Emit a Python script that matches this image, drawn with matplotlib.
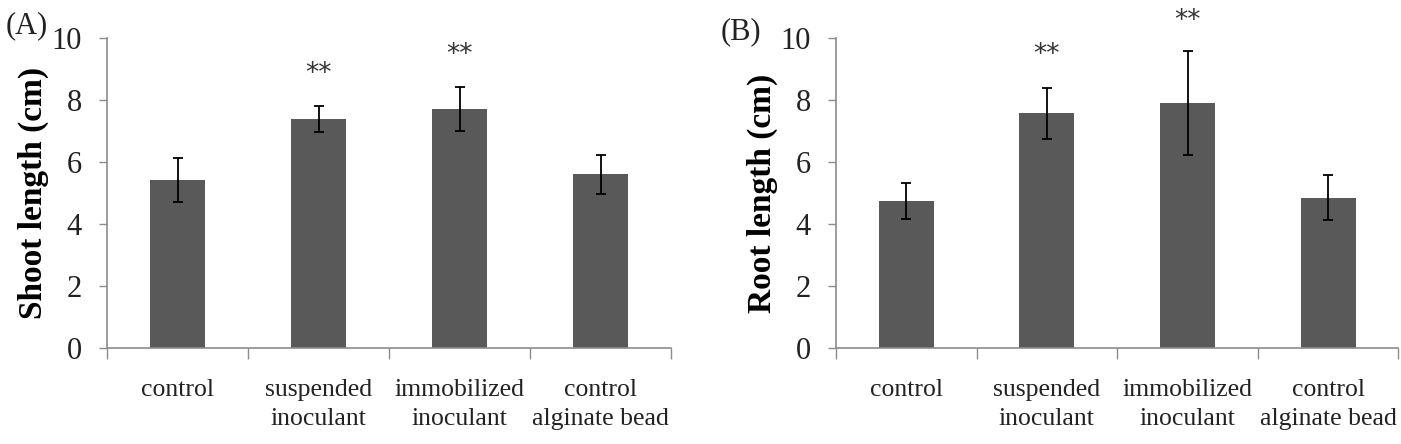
import numpy as np
import matplotlib
matplotlib.use("Agg")
import matplotlib.pyplot as plt

plt.rcParams['font.family'] = ['Liberation Serif', 'DejaVu Serif']

categories = ["control", "suspended\ninoculant", "immobilized\ninoculant", "control\nalginate bead"]

shoot_mean = [5.42, 7.38, 7.71, 5.61]
shoot_err  = [0.72, 0.42, 0.70, 0.63]
shoot_star = ["", "**", "**", ""]
shoot_star_y = [0, 8.85, 9.45, 0]

root_mean = [4.74, 7.57, 7.91, 4.85]
root_err  = [0.58, 0.82, 1.67, 0.73]
root_star = ["", "**", "**", ""]
root_star_y = [0, 9.45, 10.55, 0]

AXIS_COLOR = '#8c8c8c'
BAR_COLOR = '#595959'
TEXT_COLOR = '#222222'

fig = plt.figure(figsize=(14.01, 4.44), dpi=100)
axA = fig.add_axes([0.0764, 0.216, 0.4026, 0.698])
axB = fig.add_axes([0.5967, 0.216, 0.4015, 0.698])


def draw(ax, mean, err, stars, star_y, ylabel, tag, tag_x, tag_y):
    x = np.arange(len(categories))
    ax.bar(x, mean, width=0.39, color=BAR_COLOR, zorder=2)
    ax.errorbar(x, mean, yerr=err, fmt='none', ecolor='black', elinewidth=1.3,
                capsize=3.5, capthick=1.3, zorder=3)
    for xi, s, yy in zip(x, stars, star_y):
        if s:
            ax.text(xi, yy, s, ha='center', va='center', fontsize=19,
                    family='DejaVu Sans', color='#333333', clip_on=False)
    ax.set_xlim(-0.5, len(categories) - 0.5)
    ax.set_ylim(0, 10)
    ax.set_yticks(np.arange(0, 11, 2))
    ax.tick_params(axis='y', direction='out', length=6, width=1, color=AXIS_COLOR,
                   labelsize=22, pad=12, labelcolor=TEXT_COLOR)
    ax.set_xticks(x)
    ax.set_xticklabels(categories, fontsize=18.5, linespacing=1.45, color=TEXT_COLOR)
    ax.tick_params(axis='x', length=0, pad=22)
    ax.set_xticks(np.arange(-0.5, len(categories)), minor=True)
    ax.tick_params(axis='x', which='minor', direction='out', length=8, width=1,
                   color=AXIS_COLOR)
    for side in ['top', 'right']:
        ax.spines[side].set_visible(False)
    for side in ['left', 'bottom']:
        ax.spines[side].set_color(AXIS_COLOR)
        ax.spines[side].set_linewidth(1.2)
    ax.set_ylabel(ylabel, fontsize=24, fontweight='bold', labelpad=2)
    ax.text(tag_x, tag_y, tag, transform=ax.transAxes, fontsize=22,
            ha='right', va='center', color=TEXT_COLOR)


draw(axA, shoot_mean, shoot_err, shoot_star, shoot_star_y, "Shoot length (cm)", "(A)", -0.105, 1.04)
draw(axB, root_mean, root_err, root_star, root_star_y, "Root length (cm)", "(B)", -0.132, 1.02)

fig.savefig("out.png", dpi=100)
